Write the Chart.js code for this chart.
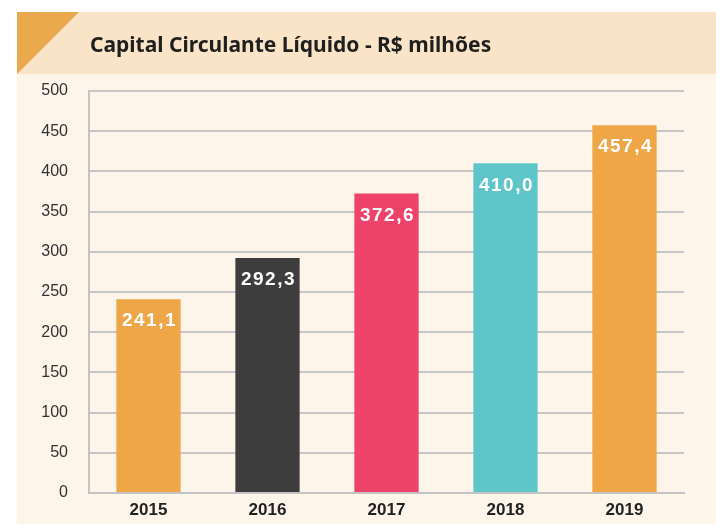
<!DOCTYPE html>
<html>
<head>
<meta charset="utf-8">
<script src="https://cdn.jsdelivr.net/npm/chart.js@4/dist/chart.umd.min.js"></script>
<style>
  html, body { margin: 0; padding: 0; background: #ffffff; }
  #wrap { width: 716px; height: 524px; }
</style>
</head>
<body>
<div id="wrap"><canvas id="grafico" width="716" height="524"></canvas></div>
<script>
// Dados do gráfico
const anos = ['2015', '2016', '2017', '2018', '2019'];
const valores = [241.1, 292.3, 372.6, 410.0, 457.4];
const rotulos = ['241,1', '292,3', '372,6', '410,0', '457,4'];
const cores = ['#eea647', '#3d3d3d', '#ef4268', '#5ec6c9', '#eea647'];
const titulo = 'Capital Circulante Líquido - R$ milhões';

// Fundo, faixa do título e triângulo
const fundoPlugin = {
    id: 'fundo',
    beforeDraw(chart) {
        const ctx = chart.ctx;
        ctx.save();
        ctx.fillStyle = '#ffffff';
        ctx.fillRect(0, 0, chart.width, chart.height);
        ctx.fillStyle = '#fdf5e9';
        ctx.fillRect(17, 74, chart.width - 17, chart.height - 74);
        ctx.fillStyle = '#f9e4c7';
        ctx.fillRect(17, 12, chart.width - 17, 62);
        ctx.fillStyle = '#e9a94c';
        ctx.beginPath();
        ctx.moveTo(17, 12);
        ctx.lineTo(79, 12);
        ctx.lineTo(17, 74);
        ctx.closePath();
        ctx.fill();

        ctx.fillStyle = '#1f1f1f';
        ctx.font = 'bold 21px "Noto Sans", sans-serif';
        ctx.textBaseline = 'alphabetic';
        ctx.textAlign = 'left';
        ctx.fillText(titulo, 90, 52);
        ctx.restore();
    }
};

// Valores dentro das barras
const rotulosPlugin = {
    id: 'rotulos',
    afterDatasetsDraw(chart) {
        const ctx = chart.ctx;
        const meta = chart.getDatasetMeta(0);
        ctx.save();
        ctx.fillStyle = '#ffffff';
        ctx.font = 'bold 19px "Liberation Sans", Arial, sans-serif';
        ctx.letterSpacing = '1.5px';
        ctx.textAlign = 'center';
        ctx.textBaseline = 'middle';
        meta.data.forEach((bar, i) => {
            ctx.fillText(rotulos[i], bar.x + 1, bar.y + 22);
        });
        ctx.restore();
    }
};

new Chart(document.getElementById('grafico'), {
    type: 'bar',
    data: {
        labels: anos,
        datasets: [{
            data: valores,
            backgroundColor: cores,
            borderWidth: 0,
            barPercentage: 0.54,
            categoryPercentage: 1.0
        }]
    },
    options: {
        responsive: false,
        animation: false,
        devicePixelRatio: 1,
        layout: {
            padding: { top: 91, right: 32, bottom: 0, left: 13 }
        },
        plugins: {
            legend: { display: false },
            tooltip: { enabled: false },
            title: { display: false }
        },
        scales: {
            x: {
                grid: { display: false, drawTicks: false },
                border: { color: '#c4c4c4', width: 2 },
                ticks: {
                    color: '#222222',
                    font: { family: '"Liberation Sans", Arial, sans-serif', size: 17, weight: 'bold' },
                    padding: 7
                },
                afterFit(scale) { scale.height = 31; }
            },
            y: {
                min: 0,
                max: 500,
                ticks: {
                    stepSize: 50,
                    color: '#333333',
                    font: { family: '"Liberation Sans", Arial, sans-serif', size: 16 },
                    padding: 21
                },
                grid: { color: '#c6c6c6', lineWidth: 2, drawTicks: false },
                border: { color: '#c4c4c4', width: 2 },
                afterFit(scale) { scale.width = 76; }
            }
        }
    },
    plugins: [fundoPlugin, rotulosPlugin]
});
</script>
</body>
</html>
